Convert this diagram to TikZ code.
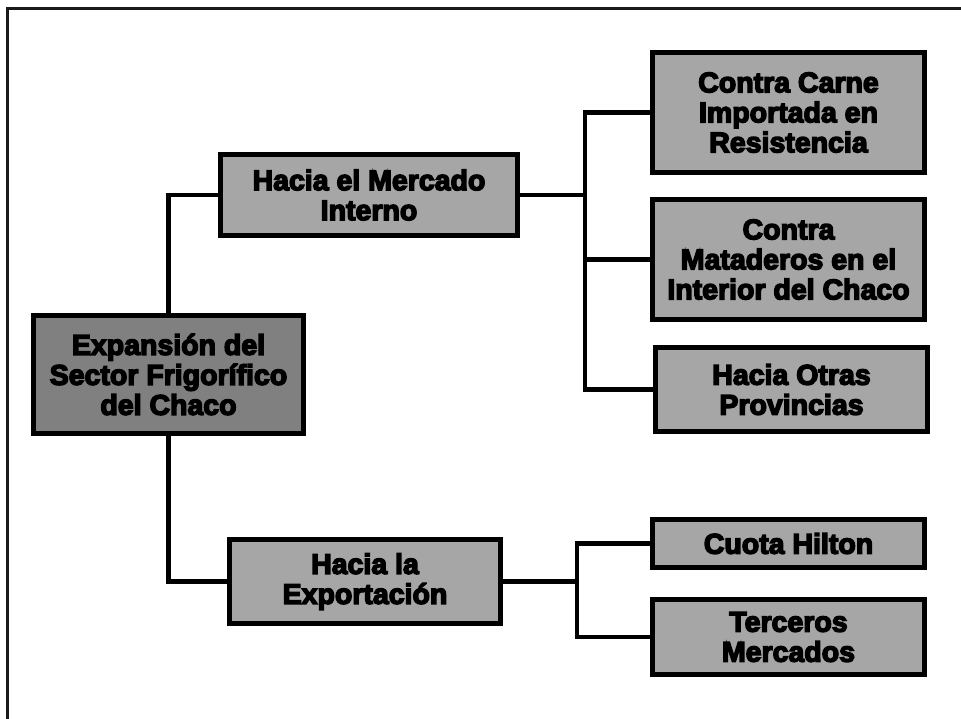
\documentclass[tikz,border=0pt]{standalone}
\usepackage{fontspec}
\newfontfamily\boxfont{Liberation Sans Bold}[FakeBold=5]
\definecolor{lightbox}{HTML}{A6A6A6}
\definecolor{darkbox}{HTML}{808080}
\definecolor{framecol}{HTML}{1A1A1A}
\begin{document}
\begin{tikzpicture}[x=1pt,y=-1pt,
  box/.style={draw=black, line width=5pt, fill=lightbox, rectangle, inner sep=0pt,
    align=center, font=\boxfont\fontsize{28.5}{30}\selectfont, text=black},
  rootbox/.style={box, fill=darkbox},
  link/.style={draw=black, line width=4.5pt, line join=miter}
]
\useasboundingbox (0,0) rectangle (961,718);
\fill[white] (0,0) rectangle (961,718);
% page frame (only top and left edges are visible)
\coordinate (fbl) at (7,720);
\coordinate (ftl) at (7,8);
\coordinate (ftr) at (963,8);
\draw[framecol, line width=3pt] (fbl) -- (ftl) -- (ftr);

\node[rootbox, minimum width=270pt, minimum height=118pt] (root) at (168.5,374.5)
  {Expansión del\\Sector Frigorífico\\del Chaco};
\node[box, minimum width=297pt, minimum height=81pt] (mercado) at (369,195)
  {Hacia el Mercado\\Interno};
\node[box, minimum width=271pt, minimum height=84pt] (export) at (365,581.5)
  {Hacia la\\Exportación};
\node[box, minimum width=272pt, minimum height=120pt] (carne) at (788.5,112.5)
  {Contra Carne\\Importada en\\Resistencia};
\node[box, minimum width=272pt, minimum height=120pt] (mataderos) at (788.5,259.5)
  {Contra\\Mataderos en el\\Interior del Chaco};
\node[box, minimum width=272pt, minimum height=84pt] (otras) at (791.5,389.5)
  {Hacia Otras\\Provincias};
\node[box, minimum width=272pt, minimum height=48pt] (hilton) at (788.5,543.5)
  {Cuota Hilton};
\node[box, minimum width=272pt, minimum height=75pt] (terceros) at (788.5,637)
  {Terceros\\Mercados};

\coordinate (j1) at (585,195);
\coordinate (j2) at (577,581.5);

\draw[link] (root.north) |- (mercado.west);
\draw[link] (root.south) |- (export.west);
\draw[link] (mercado.east) -- (j1);
\draw[link] (j1) |- (carne.west);
\draw[link] (j1) |- (mataderos.west);
\draw[link] (j1) |- (otras.west);
\draw[link] (export.east) -- (j2);
\draw[link] (j2) |- (hilton.west);
\draw[link] (j2) |- (terceros.west);
\end{tikzpicture}
\end{document}
